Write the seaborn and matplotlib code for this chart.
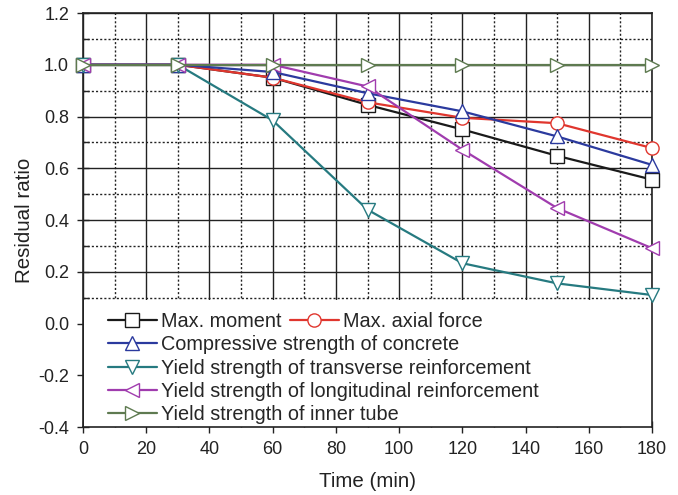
import numpy as np
import pandas as pd
import seaborn as sns
import matplotlib
matplotlib.use("Agg")
import matplotlib.pyplot as plt
from matplotlib.ticker import MultipleLocator
from matplotlib.lines import Line2D
from matplotlib.patches import Rectangle

time_min = [0, 30, 60, 90, 120, 150, 180]
max_moment = [1.0, 1.0, 0.95, 0.845, 0.75, 0.648, 0.556]
max_axial_force = [1.0, 1.0, 0.95, 0.855, 0.795, 0.774, 0.678]
compressive_concrete = [1.0, 1.0, 0.972, 0.89, 0.82, 0.723, 0.613]
yield_transverse = [1.0, 1.0, 0.785, 0.44, 0.233, 0.155, 0.11]
yield_longitudinal = [1.0, 1.0, 1.0, 0.916, 0.672, 0.446, 0.291]
yield_inner_tube = [1.0, 1.0, 1.0, 1.0, 1.0, 1.0, 1.0]

labels = ["Max. moment", "Max. axial force", "Compressive strength of concrete",
          "Yield strength of transverse reinforcement",
          "Yield strength of longitudinal reinforcement",
          "Yield strength of inner tube"]
series = [max_moment, max_axial_force, compressive_concrete, yield_transverse,
          yield_longitudinal, yield_inner_tube]
colors = ["#1a1a1a", "#e0362e", "#2b3a9e", "#267a80", "#a03cae", "#5e7a50"]
markers = ["s", "o", "^", "v", "<", ">"]

sns.set_theme(style="white")
plt.rcParams['font.family'] = ['Liberation Sans', 'DejaVu Sans']

fig = plt.figure(figsize=(6.78, 4.95), dpi=100)
ax = fig.add_axes([83/678, 1-427/495, (652-83)/678, (427-13)/495])

for lab, vals, c, m in zip(labels, series, colors, markers):
    df = pd.DataFrame({"t": time_min, "v": vals})
    sns.lineplot(data=df, x="t", y="v", ax=ax, color=c, marker=m, markersize=9.5,
                 markerfacecolor="white", markeredgecolor=c, markeredgewidth=1.0,
                 linewidth=1.6, clip_on=False, zorder=3)

ax.set_xlim(0, 180)
ax.set_ylim(-0.4, 1.2)
ax.xaxis.set_major_locator(MultipleLocator(20))
ax.xaxis.set_minor_locator(MultipleLocator(10))
ax.yaxis.set_major_locator(MultipleLocator(0.2))
ax.yaxis.set_minor_locator(MultipleLocator(0.1))
ax.yaxis.set_major_formatter(matplotlib.ticker.FormatStrFormatter('%.1f'))

ax.grid(True, which="major", color="#222222", linewidth=1.0, linestyle="-")
ax.grid(True, which="minor", color="#222222", linewidth=1.0, linestyle=(0, (1.5, 1.5)))
ax.set_axisbelow(True)

ax.add_patch(Rectangle((0.4, -0.4), 179.6, 0.49, facecolor="white", edgecolor="none", zorder=1))

for s in ax.spines.values():
    s.set_color("#222222")
    s.set_linewidth(1.2)

ax.tick_params(axis="both", which="major", direction="inout", length=8, width=1.0,
               labelsize=13, colors="#222222", left=True, bottom=True, pad=6)
ax.tick_params(axis="both", which="minor", direction="in", length=4, width=1.0,
               left=True, bottom=True)

ax.set_xlabel("Time (min)", fontsize=14.8, color="#222222", labelpad=10)
ax.set_ylabel("Residual ratio", fontsize=14.8, color="#222222", labelpad=3)

def handle(i):
    return Line2D([], [], color=colors[i], marker=markers[i], markersize=9.5,
                  markerfacecolor="white", markeredgecolor=colors[i], linewidth=1.6)

fs = 14.3
idx1 = [0, 2, 3, 4, 5]
leg1 = ax.legend([handle(i) for i in idx1], [labels[i] for i in idx1],
                 loc="upper left", bbox_to_anchor=(15/569, (427-302)/414), frameon=False,
                 fontsize=fs, handlelength=2.45, handletextpad=0.2, labelspacing=0.22,
                 borderpad=0)
ax.add_artist(leg1)
leg2 = ax.legend([handle(1)], [labels[1]], loc="upper left",
                 bbox_to_anchor=(197/569, (427-302)/414),
                 frameon=False, fontsize=fs, handlelength=2.45, handletextpad=0.2,
                 borderpad=0)
leg1.set_zorder(5)
leg2.set_zorder(5)

fig.savefig("out.png", dpi=100)
